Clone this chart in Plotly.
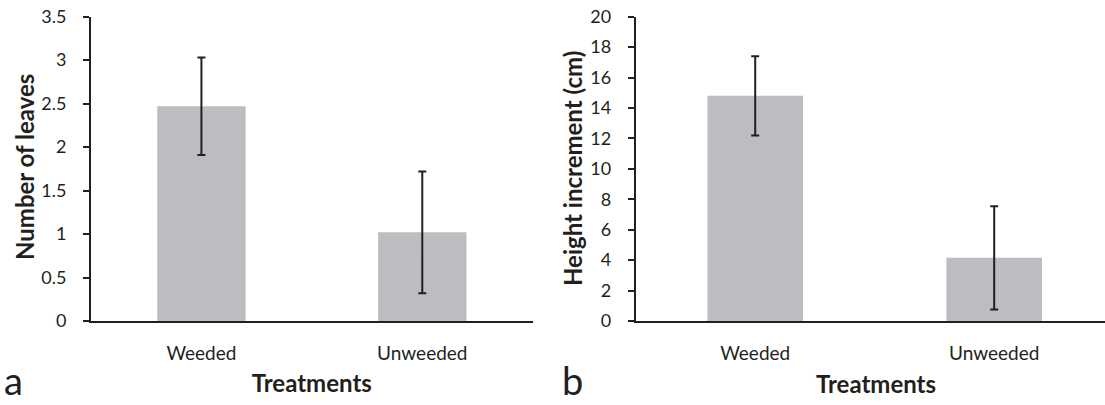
import plotly.graph_objects as go

categories = ["Weeded", "Unweeded"]
leaves_mean = [2.47, 1.02]
leaves_err = [0.56, 0.70]
height_mean = [14.8, 4.15]
height_err = [2.6, 3.4]
leaves_ticks = [0, 0.5, 1, 1.5, 2, 2.5, 3, 3.5]
leaves_ticktext = ["0", "0.5", "1", "1.5", "2", "2.5", "3", "3.5"]
height_ticks = [0, 2, 4, 6, 8, 10, 12, 14, 16, 18, 20]

W, H = 1105, 405
BAR = "#bcbdc0"
INK = "#231f20"
FONT = "Lato"

fig = go.Figure()
fig.add_trace(go.Bar(x=categories, y=leaves_mean, marker_color=BAR, width=0.40,
                     error_y=dict(type="data", array=leaves_err, color=INK, thickness=2, width=4),
                     xaxis="x", yaxis="y", showlegend=False))
fig.add_trace(go.Bar(x=categories, y=height_mean, marker_color=BAR, width=0.40,
                     error_y=dict(type="data", array=height_err, color=INK, thickness=2, width=4),
                     xaxis="x2", yaxis="y2", showlegend=False))

ydom = [(H - 321) / H, (H - 16.7) / H]
x1dom = [91 / W, 532.7 / W]
x2dom = [635.7 / W, 1.0]

TITLEFONT = dict(family=FONT, size=24, color=INK)

xcommon = dict(type="category", showline=True, linecolor=INK, linewidth=2, ticks="",
               showgrid=False, zeroline=False, ticklabelstandoff=14, automargin=False,
               tickfont=dict(family=FONT, size=19, color=INK))
ycommon = dict(showline=True, linecolor=INK, linewidth=2, ticks="outside", ticklen=6,
               tickcolor=INK, tickwidth=1.5, showgrid=False, zeroline=False, automargin=False,
               ticklabelstandoff=13, tickfont=dict(family=FONT, size=18, color=INK))

fig.update_layout(
    template="none",
    width=W, height=H, margin=dict(l=0, r=0, t=0, b=0, autoexpand=False),
    paper_bgcolor="white", plot_bgcolor="white",
    xaxis=dict(domain=x1dom, anchor="y", range=[-0.5, 1.5],
               title=dict(text="<b>Treatments</b>", font=TITLEFONT, standoff=12),
               **xcommon),
    yaxis=dict(domain=ydom, anchor="x", range=[0, 3.5], tickvals=leaves_ticks, ticktext=leaves_ticktext,
               **ycommon),
    xaxis2=dict(domain=x2dom, anchor="y2", range=[-0.5, -0.5 + (W - 635.7) / 239.0],
                **xcommon),
    yaxis2=dict(domain=ydom, anchor="x2", range=[0, 20], tickvals=height_ticks,
                **ycommon),
    annotations=[
        dict(text="<b>Number of leaves</b>", xref="paper", yref="paper", x=24 / W, y=(H - 167) / H,
             xanchor="center", yanchor="middle", textangle=-90, showarrow=False, font=TITLEFONT),
        dict(text="<b>Height increment (cm)</b>", xref="paper", yref="paper", x=572 / W, y=(H - 169) / H,
             xanchor="center", yanchor="middle", textangle=-90, showarrow=False, font=TITLEFONT),
        dict(text="<b>Treatments</b>", xref="paper", yref="paper", x=876 / W, y=(H - 383) / H,
             xanchor="center", yanchor="middle", showarrow=False, font=TITLEFONT),
        dict(text="a", xref="paper", yref="paper", x=2 / W, y=0, xanchor="left", yanchor="bottom",
             showarrow=False, font=dict(family=FONT, size=38, color=INK)),
        dict(text="b", xref="paper", yref="paper", x=560 / W, y=0, xanchor="left", yanchor="bottom",
             showarrow=False, font=dict(family=FONT, size=38, color=INK)),
    ],
)

fig.write_html("out.html", config={"displayModeBar": False},
               post_script="document.body.style.margin='0';document.body.style.padding='0';")
